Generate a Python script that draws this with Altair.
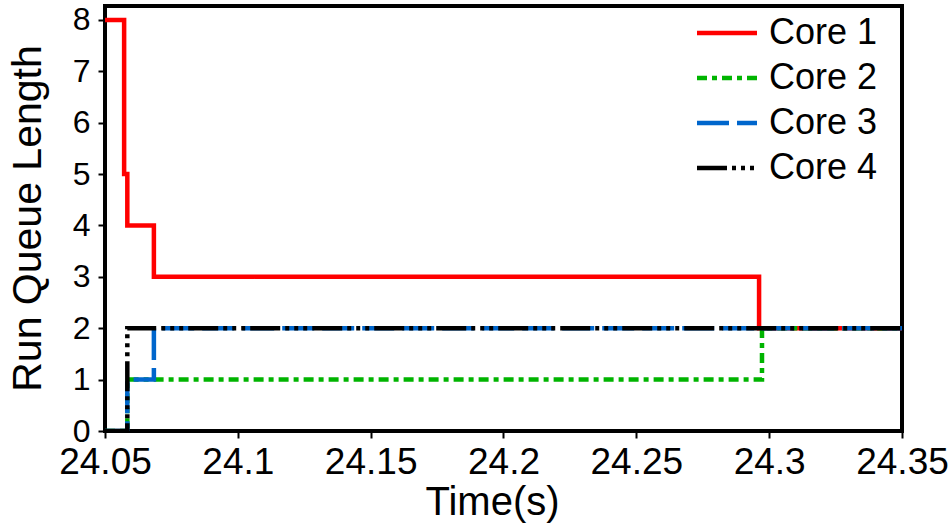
import altair as alt
import pandas as pd

# ---- data ----
series = ["Core 1", "Core 2", "Core 3", "Core 4"]
core1_t = [24.05, 24.0572, 24.0584, 24.0684, 24.2962, 24.35]
core1_v = [8, 5, 4, 3, 2, 2]
core2_t = [24.05, 24.0584, 24.2973, 24.35]
core2_v = [0, 1, 2, 2]
core3_t = [24.05, 24.0584, 24.0684, 24.35]
core3_v = [0, 1, 2, 2]
core4_t = [24.05, 24.0584, 24.35]
core4_v = [0, 2, 2]
x_ticks = [24.05, 24.1, 24.15, 24.2, 24.25, 24.3, 24.35]
y_ticks = [0, 1, 2, 3, 4, 5, 6, 7, 8]

colors = ["#ff0000", "#00b400", "#0066cc", "#000000"]
dashes = [[1, 0], [10, 5, 5, 5], [32, 8], [30, 5, 4, 5, 4, 5, 4, 5]]

rows = []
for name, ts, vs in zip(series, [core1_t, core2_t, core3_t, core4_t],
                        [core1_v, core2_v, core3_v, core4_v]):
    for t, v in zip(ts, vs):
        rows.append({"core": name, "time": t, "len": v})
df = pd.DataFrame(rows)

FONT = "Liberation Sans"

chart = alt.Chart(df).mark_line(
    interpolate="step-after", strokeWidth=4.5, clip=True
).encode(
    x=alt.X("time:Q",
            scale=alt.Scale(domain=[24.05, 24.35], nice=False, zero=False),
            axis=alt.Axis(values=x_ticks, format="~g", title="Time(s)",
                          labelFontSize=37, titleFontSize=40,
                          labelPadding=6, titleX=387, titleY=83,
                          titleBaseline="alphabetic", labelFlush=False,
                          grid=False)),
    y=alt.Y("len:Q",
            scale=alt.Scale(domain=[0, 8.27], nice=False),
            axis=alt.Axis(values=y_ticks, title="Run Queue Length",
                          labelFontSize=32, titleFontSize=41,
                          labelPadding=8, titleX=-77, titleY=212,
                          titleBaseline="middle", grid=False)),
    color=alt.Color("core:N",
                    scale=alt.Scale(domain=series, range=colors),
                    legend=alt.Legend(title=None, orient="none",
                                      legendX=584, legendY=9,
                                      symbolType="M-3,0H3", symbolSize=400,
                                      symbolStrokeWidth=4.5,
                                      symbolOffset=20,
                                      labelFontSize=36, labelOffset=24,
                                      rowPadding=9, padding=0,
                                      labelFont=FONT)),
    strokeDash=alt.StrokeDash("core:N",
                              scale=alt.Scale(domain=series, range=dashes),
                              legend=None),
).properties(
    width=797, height=425,
    autosize=alt.AutoSizeParams(type="none"),
    padding={"left": 105, "top": 6, "right": 49, "bottom": 94},
).configure_view(
    stroke="black", strokeWidth=4
).configure_axis(
    domain=False, tickColor="black", tickWidth=2, tickSize=7,
    labelColor="black", titleColor="black", labelFont=FONT, titleFont=FONT,
    titleFontWeight="normal"
).configure_legend(
    labelColor="black"
)

chart.save("out.html", embed_options={"renderer": "svg", "actions": False})
